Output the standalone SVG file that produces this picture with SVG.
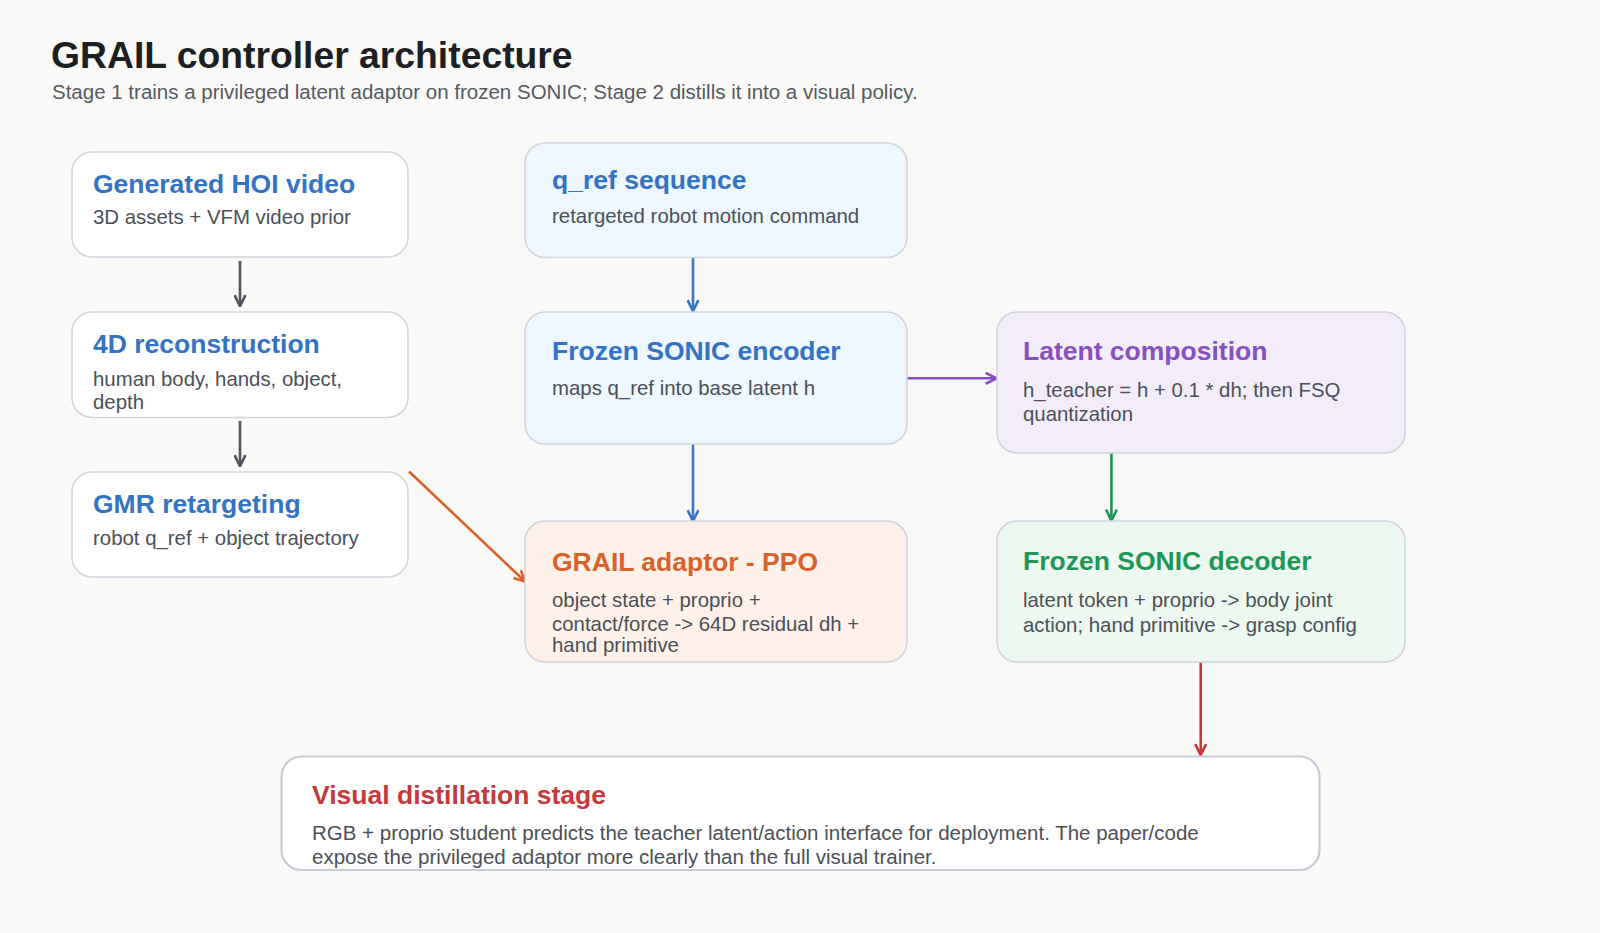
<svg xmlns="http://www.w3.org/2000/svg" width="1600" height="933" viewBox="0 0 1600 933">
  <defs>
    <style>
      text { font-family: "Liberation Sans", Arial, sans-serif; }
      .h1 { font-size: 37.3px; font-weight: bold; fill: #1e1f22; }
      .sub { font-size: 20.5px; fill: #555a61; }
      .nt { font-size: 26.5px; font-weight: bold; }
      .nb { font-size: 20.4px; fill: #4b5058; }
      .box { stroke: #cfd5dd; stroke-width: 1.5; }
      .blue { fill: #3473c3; }
      .orange { fill: #d9622b; }
      .purple { fill: #8750bf; }
      .green { fill: #1f9657; }
      .red { fill: #c6383e; }
      .conn { fill: none; stroke-width: 2.6; }
    </style>
    <marker id="ag" viewBox="0 0 12 12" refX="11" refY="6" markerWidth="13" markerHeight="13" markerUnits="userSpaceOnUse" orient="auto">
      <path d="M1,1 L11,6 L1,11" fill="none" stroke="#50555d" stroke-width="2.4"/>
    </marker>
    <marker id="ab" viewBox="0 0 12 12" refX="11" refY="6" markerWidth="13" markerHeight="13" markerUnits="userSpaceOnUse" orient="auto">
      <path d="M1,1 L11,6 L1,11" fill="none" stroke="#3a77c6" stroke-width="2.4"/>
    </marker>
    <marker id="ao" viewBox="0 0 12 12" refX="11" refY="6" markerWidth="13" markerHeight="13" markerUnits="userSpaceOnUse" orient="auto">
      <path d="M1,1 L11,6 L1,11" fill="none" stroke="#d9622b" stroke-width="2.4"/>
    </marker>
    <marker id="ap" viewBox="0 0 12 12" refX="11" refY="6" markerWidth="13" markerHeight="13" markerUnits="userSpaceOnUse" orient="auto">
      <path d="M1,1 L11,6 L1,11" fill="none" stroke="#8750bf" stroke-width="2.4"/>
    </marker>
    <marker id="agr" viewBox="0 0 12 12" refX="11" refY="6" markerWidth="13" markerHeight="13" markerUnits="userSpaceOnUse" orient="auto">
      <path d="M1,1 L11,6 L1,11" fill="none" stroke="#1f9657" stroke-width="2.4"/>
    </marker>
    <marker id="ar" viewBox="0 0 12 12" refX="11" refY="6" markerWidth="13" markerHeight="13" markerUnits="userSpaceOnUse" orient="auto">
      <path d="M1,1 L11,6 L1,11" fill="none" stroke="#c6383e" stroke-width="2.4"/>
    </marker>
  </defs>

  <rect x="0" y="0" width="1600" height="933" fill="#f9f9f7"/>

  <g id="header">
    <text class="h1" x="51" y="68">GRAIL controller architecture</text>
    <text class="sub" x="52" y="99">Stage 1 trains a privileged latent adaptor on frozen SONIC; Stage 2 distills it into a visual policy.</text>
  </g>

  <g id="connectors">
    <line class="conn" x1="240" y1="261" x2="240" y2="306" stroke="#50555d" marker-end="url(#ag)"/>
    <line class="conn" x1="240" y1="421" x2="240" y2="466" stroke="#50555d" marker-end="url(#ag)"/>
    <line class="conn" x1="693" y1="258" x2="693" y2="311" stroke="#3a77c6" marker-end="url(#ab)"/>
    <line class="conn" x1="693" y1="444" x2="693" y2="521" stroke="#3a77c6" marker-end="url(#ab)"/>
    <line class="conn" x1="409" y1="471.5" x2="525" y2="581.5" stroke="#d9622b" marker-end="url(#ao)"/>
    <line class="conn" x1="907" y1="378.3" x2="996.5" y2="378.3" stroke="#8750bf" marker-end="url(#ap)"/>
    <line class="conn" x1="1111.4" y1="453" x2="1111.4" y2="520.5" stroke="#1f9657" marker-end="url(#agr)"/>
    <line class="conn" x1="1200.7" y1="662" x2="1200.7" y2="755" stroke="#c6383e" marker-end="url(#ar)"/>
  </g>

  <g id="node-hoi-video">
    <rect class="box" x="72" y="152" width="336" height="105" rx="20" fill="#ffffff"/>
    <text class="nt blue" x="93" y="193">Generated HOI video</text>
    <text class="nb" x="93" y="224">3D assets + VFM video prior</text>
  </g>

  <g id="node-4d-recon">
    <rect class="box" x="72" y="312" width="336" height="105.5" rx="20" fill="#ffffff"/>
    <text class="nt blue" x="93" y="353">4D reconstruction</text>
    <text class="nb" x="93" y="386">human body, hands, object,</text>
    <text class="nb" x="93" y="409">depth</text>
  </g>

  <g id="node-gmr">
    <rect class="box" x="72" y="472" width="336" height="105" rx="20" fill="#ffffff"/>
    <text class="nt blue" x="93" y="513">GMR retargeting</text>
    <text class="nb" x="93" y="545">robot q_ref + object trajectory</text>
  </g>

  <g id="node-qref">
    <rect class="box" x="525" y="143" width="382" height="114.5" rx="20" fill="#eef6fe"/>
    <text class="nt blue" x="552" y="188.5">q_ref sequence</text>
    <text class="nb" x="552" y="223">retargeted robot motion command</text>
  </g>

  <g id="node-encoder">
    <rect class="box" x="525" y="312" width="382" height="132" rx="20" fill="#eef6fe"/>
    <text class="nt blue" x="552" y="360">Frozen SONIC encoder</text>
    <text class="nb" x="552" y="395">maps q_ref into base latent h</text>
  </g>

  <g id="node-adaptor">
    <rect class="box" x="525" y="521" width="382" height="141" rx="20" fill="#fdf1e9"/>
    <text class="nt orange" x="552" y="571">GRAIL adaptor - PPO</text>
    <text class="nb" x="552" y="607">object state + proprio +</text>
    <text class="nb" x="552" y="631">contact/force -&gt; 64D residual dh +</text>
    <text class="nb" x="552" y="652">hand primitive</text>
  </g>

  <g id="node-latent">
    <rect class="box" x="997" y="312" width="408" height="141" rx="20" fill="#f3edfb"/>
    <text class="nt purple" x="1023" y="360">Latent composition</text>
    <text class="nb" x="1023" y="396.5">h_teacher = h + 0.1 * dh; then FSQ</text>
    <text class="nb" x="1023" y="421">quantization</text>
  </g>

  <g id="node-decoder">
    <rect class="box" x="997" y="521" width="408" height="141" rx="20" fill="#edf8f1"/>
    <text class="nt green" x="1023" y="570">Frozen SONIC decoder</text>
    <text class="nb" x="1023" y="606.5">latent token + proprio -&gt; body joint</text>
    <text class="nb" x="1023" y="631.5">action; hand primitive -&gt; grasp config</text>
  </g>

  <g id="node-visual">
    <rect x="281.5" y="756.5" width="1038" height="113.5" rx="20" fill="#ffffff" stroke="#c6cdd7" stroke-width="2.2"/>
    <text class="nt red" x="312" y="803.5">Visual distillation stage</text>
    <text class="nb" x="312" y="839.5" style="font-size:20.5px">RGB + proprio student predicts the teacher latent/action interface for deployment. The paper/code</text>
    <text class="nb" x="312" y="863.5" style="font-size:20.5px">expose the privileged adaptor more clearly than the full visual trainer.</text>
  </g>
</svg>
